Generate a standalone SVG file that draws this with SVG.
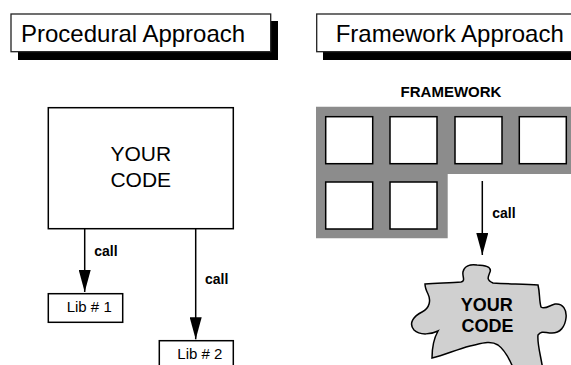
<svg xmlns="http://www.w3.org/2000/svg" width="571" height="365" viewBox="0 0 571 365">
<style>
text{font-family:"Liberation Sans",Arial,sans-serif;fill:#000}
.title{font-size:24px}
.big{font-size:21px}
.call{font-size:14px;font-weight:bold}
.lib{font-size:15px}
.fw{font-size:15px;font-weight:bold}
.pz{font-size:18px;font-weight:bold}
.tbox{fill:#fff;stroke:#222;stroke-width:1.3}
.shadow{fill:#000}
.box{fill:#fff;stroke:#000;stroke-width:1.5}
.sq{fill:#fff;stroke:#000;stroke-width:1.5}
.edge{stroke:#000;stroke-width:1.5;fill:none;marker-end:url(#ah)}
</style>
<defs>
<marker id="ah" viewBox="0 0 22 12" refX="22" refY="6" markerWidth="22" markerHeight="12" markerUnits="userSpaceOnUse" orient="auto">
<path d="M0,0 L22,6 L0,12 Z" fill="#000"/>
</marker>
</defs>
<rect width="571" height="365" fill="#fff"/>
<g id="title-procedural">
<rect class="shadow" x="18" y="21" width="260" height="39"/>
<rect class="tbox" x="11" y="14" width="259.7" height="37.7"/>
<text class="title" x="21" y="41.5">Procedural Approach</text>
</g>
<g id="title-framework">
<rect class="shadow" x="323" y="21" width="270" height="39"/>
<rect class="tbox" x="316.7" y="14" width="270" height="37.7"/>
<text class="title" x="335.7" y="41.5">Framework Approach</text>
</g>
<g id="your-code">
<rect class="box" x="48.3" y="107.7" width="185" height="121"/>
<text class="big" x="140.8" y="161" text-anchor="middle">YOUR</text>
<text class="big" x="140.8" y="186.7" text-anchor="middle">CODE</text>
</g>
<g id="lib1">
<rect class="box" x="48.3" y="293.7" width="74.4" height="28.6" stroke-width="1.2"/>
<text class="lib" x="66.7" y="312.3">Lib # 1</text>
</g>
<g id="lib2">
<rect class="box" x="159.3" y="340.7" width="74" height="29" stroke-width="1.2"/>
<text class="lib" x="177.3" y="358.7">Lib # 2</text>
</g>
<g id="framework">
<text class="fw" x="451" y="97.3" text-anchor="middle">FRAMEWORK</text>
<path d="M316,106.7 H575 V174 H447.7 V238.3 H316 Z" fill="#8c8c8c"/>
<rect class="sq" x="325.7" y="116.7" width="47" height="47"/>
<rect class="sq" x="390" y="116.7" width="47" height="47"/>
<rect class="sq" x="455" y="116.7" width="47" height="47"/>
<rect class="sq" x="519.3" y="116.7" width="47" height="47"/>
<rect class="sq" x="325.7" y="182" width="47" height="47"/>
<rect class="sq" x="390" y="182" width="47" height="47"/>
</g>
<g id="puzzle-code">
<path d="M425,284 C440,283 452,283 461,282 C466,281 462,276 463,272 C464,266 470,264 477,265 C485,265 492,267 490,272 C488,277 486,280 493,283 C510,284 525,284 538,285 C540,293 539,300 541,307 C545,310 550,305 555,304 C563,303 567,310 566,318 C565,327 560,333 552,333 C545,333 542,330 538,335 C537,343 540,352 543,370 L514,370 C510,360 505,350 498,345 C490,340 480,344 470,346 C455,350 445,355 432,358 C432,350 433,340 438,331 C432,334 420,336 414,330 C408,323 414,316 422,312 C430,308 431,300 428,294 C426,290 425,287 425,284 Z" fill="#d0d0d0" stroke="#000" stroke-width="1.5"/>
<text class="pz" x="486.7" y="310.7" text-anchor="middle">YOUR</text>
<text class="pz" x="487.5" y="332" text-anchor="middle">CODE</text>
</g>
<g id="connectors">
<line class="edge" x1="84.7" y1="228.7" x2="84.7" y2="292"/>
<line class="edge" x1="195.7" y1="228.7" x2="195.7" y2="339.3"/>
<line class="edge" x1="482.3" y1="181" x2="482.3" y2="255"/>
<text class="call" x="94.3" y="255.7">call</text>
<text class="call" x="205" y="284">call</text>
<text class="call" x="492.3" y="218.3">call</text>
</g>
</svg>
